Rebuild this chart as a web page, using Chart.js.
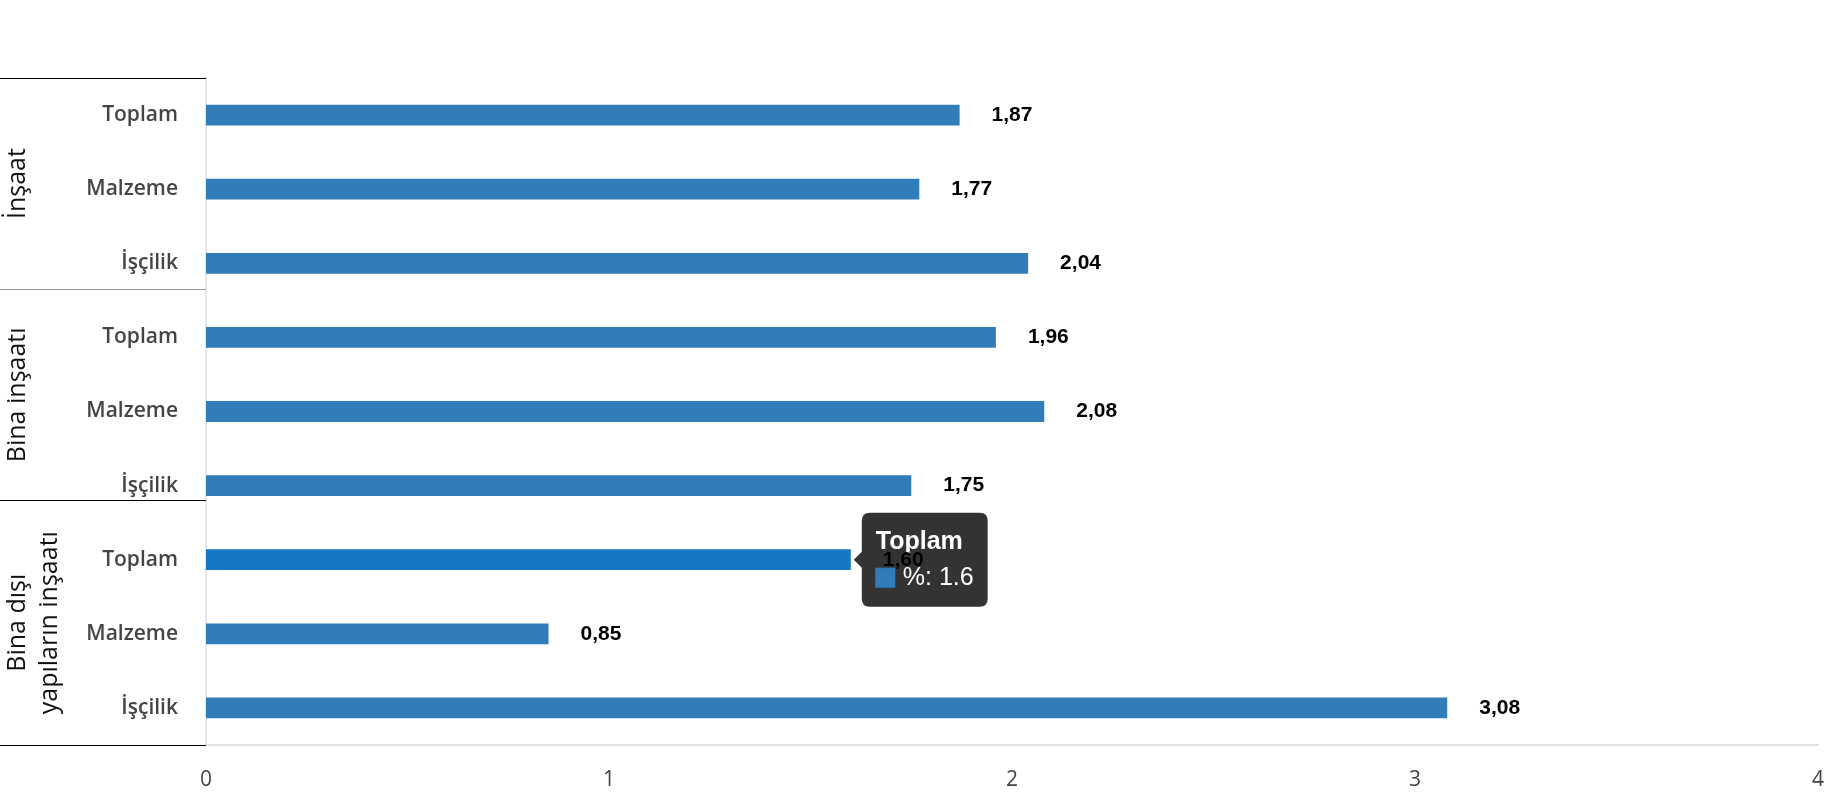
<!DOCTYPE html>
<html>
<head>
<meta charset="utf-8">
<script src="https://cdn.jsdelivr.net/npm/chart.js@4"></script>
<style>
  html, body { margin: 0; padding: 0; background: #fff; }
  #wrap { width: 1830px; height: 800px; position: relative; }
</style>
</head>
<body>
<div id="wrap"><canvas id="myChart"></canvas></div>
<script>
const categories = ['Toplam', 'Malzeme', 'İşçilik', 'Toplam', 'Malzeme', 'İşçilik', 'Toplam', 'Malzeme', 'İşçilik'];
const groups = [['İnşaat'], ['Bina inşaatı'], ['Bina dışı', 'yapıların inşaatı']];
// where the group separators sit, in category units (as drawn in the original)
const groupLines = [-0.5, 2.35, 5.2, 8.5];
const groupLineColors = ['#000', '#999', '#000', '#000'];
const values = [1.87, 1.77, 2.04, 1.96, 2.08, 1.75, 1.60, 0.85, 3.08];
const xTicks = [0, 1, 2, 3, 4];
const activeIndex = 6; // bar with the tooltip open

const barColor = '#307dba';

// group names + separator lines on the far left
const groupPlugin = {
  id: 'groups',
  afterDraw(chart) {
    const ctx = chart.ctx;
    const y = chart.scales.y;
    const right = chart.chartArea.left;
    ctx.save();
    groupLines.forEach((v, g) => {
      const py = Math.round(y.getPixelForValue(v)) + 0.5;
      ctx.strokeStyle = groupLineColors[g];
      ctx.lineWidth = 1;
      ctx.beginPath();
      ctx.moveTo(0, py);
      ctx.lineTo(right, py);
      ctx.stroke();
    });
    ctx.fillStyle = '#111';
    ctx.font = '25px "Open Sans"';
    ctx.textAlign = 'center';
    ctx.textBaseline = 'alphabetic';
    groups.forEach((lines, g) => {
      const top = y.getPixelForValue(groupLines[g]);
      const bottom = y.getPixelForValue(groupLines[g + 1]);
      const cy = (top + bottom) / 2;
      lines.forEach((txt, i) => {
        ctx.save();
        ctx.translate(25 + i * 32, cy);
        ctx.rotate(-Math.PI / 2);
        ctx.fillText(txt, 0, 0);
        ctx.restore();
      });
    });
    ctx.restore();
  }
};

// value labels at the end of each bar (drawn after the tooltip)
const valueLabels = {
  id: 'valueLabels',
  afterDraw(chart) {
    const ctx = chart.ctx;
    const meta = chart.getDatasetMeta(0);
    ctx.save();
    ctx.fillStyle = '#000';
    ctx.font = 'bold 21px "Liberation Sans", Arial';
    ctx.textAlign = 'left';
    ctx.textBaseline = 'middle';
    meta.data.forEach((bar, i) => {
      ctx.fillText(values[i].toFixed(2).replace('.', ','), bar.x + 32, bar.y);
    });
    ctx.restore();
  }
};

const ctx = document.getElementById('myChart').getContext('2d');

const data = {
  labels: categories,
  datasets: [{
    label: '%',
    data: values,
    backgroundColor: barColor,
    hoverBackgroundColor: '#1677c6',
    borderColor: barColor,
    borderWidth: 0,
    barPercentage: 0.28,
    categoryPercentage: 1
  }]
};

const config = {
  type: 'bar',
  data,
  options: {
    indexAxis: 'y',
    locale: 'en-US',
    responsive: true,
    maintainAspectRatio: false,
    animation: false,
    events: [],
    layout: { padding: { top: 78, right: 12, left: 0, bottom: 0 } },
    scales: {
      x: {
        min: 0,
        max: 4,
        afterBuildTicks(scale) {
          scale.ticks = xTicks.map(v => ({ value: v }));
        },
        afterFit(scale) {
          scale.height = 55;
          scale.paddingLeft = 0;
          scale.paddingRight = 0;
        },
        grid: { display: false, drawTicks: false },
        border: { display: true, color: '#e0e0e0', width: 2 },
        ticks: {
          padding: 22,
          color: '#444',
          font: { family: '"Open Sans"', size: 21 }
        }
      },
      y: {
        afterFit(scale) { scale.width = 206; },
        grid: { display: false, drawTicks: false },
        border: { display: true, color: '#e4e8ee', width: 2 },
        ticks: {
          padding: 28,
          color: '#444',
          font: { family: '"Open Sans"', size: 21, weight: '600' }
        }
      }
    },
    plugins: {
      legend: { display: false },
      tooltip: {
        backgroundColor: 'rgba(0,0,0,0.8)',
        cornerRadius: 8,
        caretSize: 8,
        caretPadding: 3,
        padding: { x: 14, y: 14 },
        titleFont: { family: '"Liberation Sans", Arial', size: 25, weight: 'bold' },
        bodyFont: { family: '"Liberation Sans", Arial', size: 25 },
        titleMarginBottom: 6,
        boxWidth: 19,
        boxHeight: 19,
        boxPadding: 6,
        multiKeyBackground: barColor,
        callbacks: {
          labelColor() {
            return { borderColor: barColor, backgroundColor: barColor, borderWidth: 0 };
          }
        }
      }
    }
  },
  plugins: [groupPlugin, valueLabels]
};

var myChart = new Chart(ctx, config);

const active = [{ datasetIndex: 0, index: activeIndex }];
const bar = myChart.getDatasetMeta(0).data[activeIndex];
myChart.setActiveElements(active);
myChart.tooltip.setActiveElements(active, { x: bar.x, y: bar.y });
myChart.update();
</script>
</body>
</html>
